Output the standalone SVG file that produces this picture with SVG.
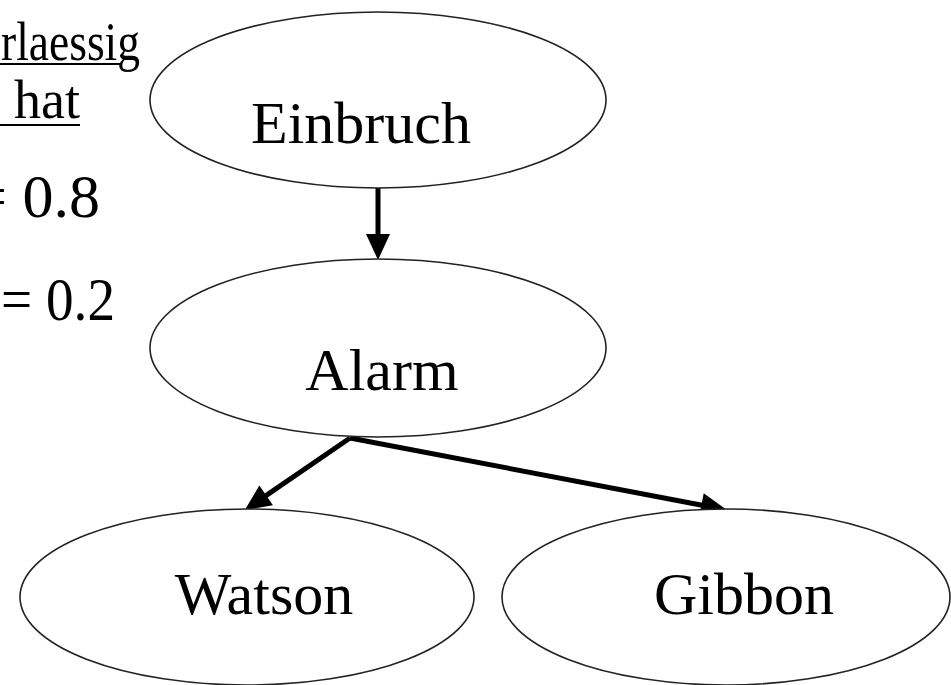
<svg xmlns="http://www.w3.org/2000/svg" width="951" height="685" viewBox="0 0 951 685">
<style>
.node{fill:#fff;stroke:#222;stroke-width:1.6}
.lbl{font-family:"Liberation Serif","Times New Roman",serif;font-size:60px;fill:#000;text-anchor:middle}
.side{font-family:"Liberation Serif","Times New Roman",serif;fill:#000}
.edge{stroke:#000;stroke-width:5;fill:none}
.ul{stroke:#000;stroke-width:2}
</style>
<defs>
<marker id="ah" markerUnits="userSpaceOnUse" markerWidth="26" markerHeight="24" refX="2" refY="12" orient="auto" overflow="visible">
<path d="M0,0 L26,12 L0,24 z" fill="#000"/>
</marker>
</defs>
<rect width="951" height="685" fill="#fff"/>
<g id="side-text">
<text class="side" x="1" y="60" font-size="55" textLength="139" lengthAdjust="spacingAndGlyphs">rlaessig</text>
<line class="ul" x1="0" y1="64" x2="122" y2="64"/>
<text class="side" x="14" y="118" font-size="55" textLength="66" lengthAdjust="spacingAndGlyphs">hat</text>
<line class="ul" x1="0" y1="125" x2="80" y2="125"/>
<text class="side" x="100" y="217" font-size="62" text-anchor="end">= 0.8</text>
<text class="side" x="1" y="320" font-size="62" textLength="114" lengthAdjust="spacingAndGlyphs">= 0.2</text>
</g>
<g id="connectors">
<line class="edge" x1="378" y1="188" x2="378" y2="236" marker-end="url(#ah)"/>
<line class="edge" x1="350" y1="438" x2="264.5" y2="496.6" marker-end="url(#ah)"/>
<line class="edge" x1="350" y1="438" x2="703.4" y2="505.5" marker-end="url(#ah)"/>
</g>
<g id="einbruch">
<ellipse class="node" cx="378" cy="100" rx="228" ry="88"/>
<text class="lbl" x="361" y="143">Einbruch</text>
</g>
<g id="alarm">
<ellipse class="node" cx="378" cy="348" rx="228" ry="89"/>
<text class="lbl" x="382" y="390">Alarm</text>
</g>
<g id="watson">
<ellipse class="node" cx="247" cy="597" rx="227" ry="88"/>
<text class="lbl" x="264" y="614">Watson</text>
</g>
<g id="gibbon">
<ellipse class="node" cx="726" cy="597" rx="224" ry="88"/>
<text class="lbl" x="744" y="614">Gibbon</text>
</g>
</svg>
